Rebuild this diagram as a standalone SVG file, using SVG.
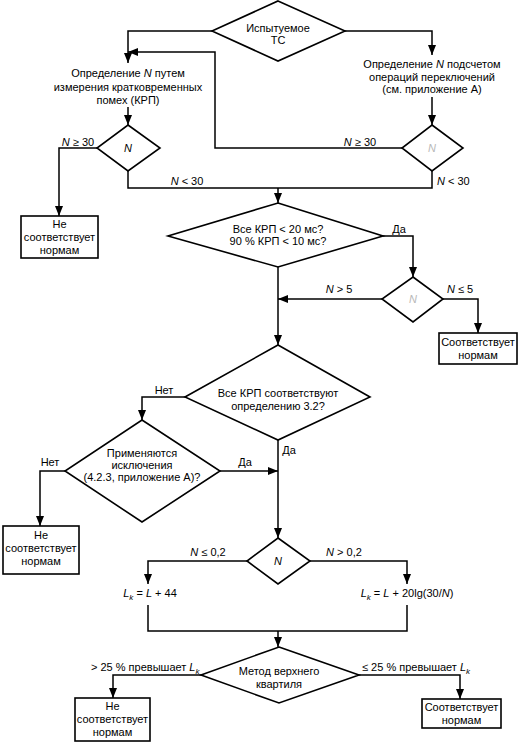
<svg xmlns="http://www.w3.org/2000/svg" width="519" height="742" viewBox="0 0 519 742">
<style>
  .shape { fill: #fff; stroke: #000; stroke-width: 1.6; }
  .conn { fill: none; stroke: #000; stroke-width: 1.5; }
  .arr { marker-end: url(#ah); }
  text { font-family: "Liberation Sans", Arial, sans-serif; font-size: 11px; fill: #000; }
  .c { text-anchor: middle; }
  .i { font-style: italic; }
  .faint { fill: #b8b8b8; }
</style>
<defs>
  <marker id="ah" markerUnits="userSpaceOnUse" markerWidth="10" markerHeight="8" refX="10" refY="4" orient="auto">
    <path d="M0,0 L10,4 L0,8 z" fill="#000"/>
  </marker>
</defs>
<rect width="519" height="742" fill="#fff"/>

<g id="connectors">
  <polyline class="conn arr" points="212,31 128,31 128,63"/>
  <polyline class="conn arr" points="345,31 432,31 432,55"/>
  <line class="conn arr" x1="128" y1="107" x2="128" y2="125"/>
  <line class="conn arr" x1="432" y1="97" x2="432" y2="125"/>
  <polyline class="conn arr" points="402,148 215,148 215,52 128,52"/>
  <polyline class="conn arr" points="97,148 59,148 59,216"/>
  <polyline class="conn" points="128,171 128,188 432,188 432,171"/>
  <line class="conn arr" x1="278" y1="188" x2="278" y2="203"/>
  <polyline class="conn arr" points="383,236 413,236 413,277"/>
  <line class="conn arr" x1="382" y1="299" x2="278" y2="299"/>
  <polyline class="conn arr" points="443,299 478,299 478,333"/>
  <line class="conn arr" x1="278" y1="267" x2="278" y2="345"/>
  <polyline class="conn arr" points="185,397 142,397 142,420"/>
  <polyline class="conn arr" points="65,471 40,471 40,526"/>
  <line class="conn arr" x1="220" y1="471" x2="278" y2="471"/>
  <line class="conn arr" x1="278" y1="440" x2="278" y2="538"/>
  <polyline class="conn arr" points="247,561 148,561 148,584"/>
  <polyline class="conn arr" points="310,561 407,561 407,584"/>
  <polyline class="conn" points="148,605 148,631 407,631 407,605"/>
  <line class="conn arr" x1="278" y1="631" x2="278" y2="647"/>
  <polyline class="conn arr" points="201,675 113,675 113,698"/>
  <polyline class="conn arr" points="359,675 460,675 460,699"/>

  <text x="78" y="146" class="c"><tspan class="i">N</tspan> ≥ 30</text>
  <text x="360" y="146" class="c"><tspan class="i">N</tspan> ≥ 30</text>
  <text x="187" y="185" class="c"><tspan class="i">N</tspan> &lt; 30</text>
  <text x="437" y="185"><tspan class="i">N</tspan> &lt; 30</text>
  <text x="399" y="233" class="c">Да</text>
  <text x="339" y="293" class="c"><tspan class="i">N</tspan> &gt; 5</text>
  <text x="460" y="293" class="c"><tspan class="i">N</tspan> ≤ 5</text>
  <text x="164" y="394" class="c">Нет</text>
  <text x="289" y="454" class="c">Да</text>
  <text x="50" y="466" class="c">Нет</text>
  <text x="245" y="466" class="c">Да</text>
  <text x="208" y="556" class="c"><tspan class="i">N</tspan> ≤ 0,2</text>
  <text x="344" y="556" class="c"><tspan class="i">N</tspan> &gt; 0,2</text>
  <text x="91" y="671">&gt; 25 % превышает <tspan class="i">L</tspan><tspan class="i" font-size="8" dy="3">k</tspan></text>
  <text x="362" y="671">≤ 25 % превышает <tspan class="i">L</tspan><tspan class="i" font-size="8" dy="3">k</tspan></text>
</g>

<g id="n-start">
  <polygon class="shape" points="278,1 345,31 278,61 212,31"/>
  <text x="278" y="32" class="c">Испытуемое</text>
  <text x="278" y="44" class="c">ТС</text>
</g>

<g id="n-measure">
  <text x="128" y="77" class="c">Определение <tspan class="i">N</tspan> путем</text>
  <text x="128" y="90.5" class="c">измерения кратковременных</text>
  <text x="128" y="104" class="c">помех (КРП)</text>
</g>

<g id="n-count">
  <text x="432" y="68" class="c">Определение <tspan class="i">N</tspan> подсчетом</text>
  <text x="432" y="80.5" class="c">операций переключений</text>
  <text x="432" y="93" class="c">(см. приложение А)</text>
</g>

<g id="n-dec-left">
  <polygon class="shape" points="128,125 160,148 128,171 97,148"/>
  <text x="128" y="152" class="c i">N</text>
</g>

<g id="n-dec-right">
  <polygon class="shape" points="432,125 463,148 432,171 402,148"/>
  <text x="432" y="152" class="c i faint">N</text>
</g>

<g id="n-fail1">
  <rect class="shape" x="21" y="216" width="77" height="42"/>
  <text x="59.5" y="228" class="c">Не</text>
  <text x="59.5" y="241" class="c">соответствует</text>
  <text x="59.5" y="254" class="c">нормам</text>
</g>

<g id="n-krp">
  <polygon class="shape" points="278,203 383,236 278,267 168,236"/>
  <text x="278" y="233" class="c">Все КРП &lt; 20 мс?</text>
  <text x="278" y="245" class="c">90 % КРП &lt; 10 мс?</text>
</g>

<g id="n-dec5">
  <polygon class="shape" points="413,277 443,299 413,322 382,299"/>
  <text x="413" y="303" class="c i faint">N</text>
</g>

<g id="n-pass1">
  <rect class="shape" x="439" y="333" width="78" height="31"/>
  <text x="478" y="346" class="c">Соответствует</text>
  <text x="478" y="359" class="c">нормам</text>
</g>

<g id="n-def">
  <polygon class="shape" points="278,345 370,397 278,440 185,397"/>
  <text x="278" y="397" class="c">Все КРП соответствуют</text>
  <text x="278" y="410" class="c">определению 3.2?</text>
</g>

<g id="n-exc">
  <polygon class="shape" points="142,420 220,471 142,522 65,471"/>
  <text x="142" y="457" class="c">Применяются</text>
  <text x="142" y="469" class="c">исключения</text>
  <text x="142" y="481" class="c">(4.2.3, приложение А)?</text>
</g>

<g id="n-fail2">
  <rect class="shape" x="3" y="526" width="76" height="48"/>
  <text x="41" y="539" class="c">Не</text>
  <text x="41" y="552" class="c">соответствует</text>
  <text x="41" y="565" class="c">нормам</text>
</g>

<g id="n-dec-n">
  <polygon class="shape" points="278,538 310,561 278,584 247,561"/>
  <text x="278" y="565" class="c i">N</text>
</g>

<g id="n-lk1">
  <text x="150" y="597" class="c"><tspan class="i">L</tspan><tspan class="i" font-size="8" dy="3">k</tspan><tspan dy="-3"> = </tspan><tspan class="i">L</tspan> + 44</text>
</g>

<g id="n-lk2">
  <text x="407" y="597" class="c"><tspan class="i">L</tspan><tspan class="i" font-size="8" dy="3">k</tspan><tspan dy="-3"> = </tspan><tspan class="i">L</tspan> + 20lg(30/<tspan class="i">N</tspan>)</text>
</g>

<g id="n-quart">
  <polygon class="shape" points="279,647 359,675 279,703 201,675"/>
  <text x="279" y="675" class="c">Метод верхнего</text>
  <text x="279" y="688" class="c">квартиля</text>
</g>

<g id="n-fail3">
  <rect class="shape" x="75" y="698" width="75" height="43"/>
  <text x="112.5" y="710" class="c">Не</text>
  <text x="112.5" y="723" class="c">соответствует</text>
  <text x="112.5" y="736" class="c">нормам</text>
</g>

<g id="n-pass2">
  <rect class="shape" x="422" y="699" width="79" height="29"/>
  <text x="461.5" y="711" class="c">Соответствует</text>
  <text x="461.5" y="724" class="c">нормам</text>
</g>
</svg>
